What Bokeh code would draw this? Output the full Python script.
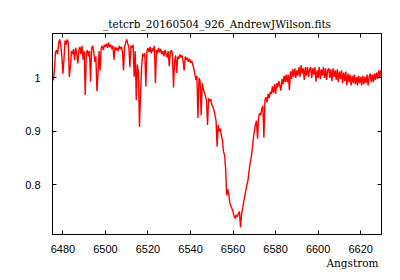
import numpy as np
from bokeh.plotting import figure
from bokeh.models import Range1d, FixedTicker, LinearAxis, Title
from bokeh.embed import file_html
from bokeh.resources import INLINE

title_text = "_tetcrb_20160504_926_AndrewJWilson.fits"
x_label = "Angstrom"

x_ticks = [6480, 6500, 6520, 6540, 6560, 6580, 6600, 6620]
x_tick_labels = ["6480", "6500", "6520", "6540", "6560", "6580", "6600", "6620"]
y_ticks = [0.8, 0.9, 1.0]
y_tick_labels = ["0.8", "0.9", "1"]

wave_start = 6475.5
wave_step = 0.5

flux = [
    0.995, 1.015, 1.048, 1.052, 1.044, 1.066, 1.072, 1.060, 1.040, 1.008,
    1.035, 1.070, 1.062, 1.072, 1.066, 1.002, 1.020, 1.050, 1.044, 1.054,
    1.033, 1.056, 1.046, 1.027, 1.052, 1.058, 1.044, 1.060, 1.034, 1.050,
    0.968, 1.046, 1.052, 1.040, 1.050, 0.993, 1.056, 1.060, 1.048, 1.030,
    1.040, 0.975, 1.008, 1.050, 1.014, 1.056, 1.060, 1.052, 1.062, 1.058,
    1.064, 1.056, 1.066, 1.058, 1.062, 1.054, 1.060, 1.034, 1.058, 1.052,
    1.056, 1.050, 1.060, 1.054, 1.058, 1.048, 1.014, 1.058, 1.066, 1.072,
    1.064, 1.058, 1.020, 1.060, 1.056, 1.062, 1.002, 1.050, 0.958, 1.025,
    1.010, 0.908, 0.970, 1.020, 1.045, 1.040, 1.046, 0.984, 1.050, 1.056,
    1.048, 1.058, 1.046, 1.055, 1.050, 1.060, 0.990, 1.052, 1.046, 1.056,
    1.048, 1.054, 1.044, 1.050, 1.040, 1.052, 1.046, 1.038, 1.050, 1.022,
    1.048, 1.052, 1.045, 0.982, 1.030, 1.042, 1.009, 1.040, 1.036, 1.044,
    1.038, 1.042, 1.032, 1.014, 1.040, 1.034, 1.038, 1.030, 1.036, 1.028,
    1.032, 1.026, 1.018, 1.008, 0.996, 1.004, 0.925, 1.000, 0.994, 0.930,
    0.990, 0.980, 0.972, 0.966, 0.958, 0.912, 0.962, 0.956, 0.960, 0.950,
    0.946, 0.940, 0.930, 0.920, 0.871, 0.912, 0.900, 0.905, 0.892, 0.884,
    0.862, 0.856, 0.830, 0.780, 0.792, 0.782, 0.766, 0.760, 0.755, 0.750,
    0.740, 0.737, 0.744, 0.740, 0.746, 0.750, 0.720, 0.745, 0.756, 0.768,
    0.778, 0.790, 0.800, 0.808, 0.825, 0.840, 0.850, 0.866, 0.885, 0.900,
    0.912, 0.920, 0.886, 0.926, 0.934, 0.930, 0.942, 0.948, 0.888, 0.958,
    0.964, 0.954, 0.970, 0.962, 0.974, 0.970, 0.984, 0.972, 0.988, 0.970,
    0.990, 0.982, 0.994, 0.986, 0.976, 0.998, 0.988, 1.004, 0.992, 1.006,
    0.992, 1.006, 0.977, 1.012, 0.998, 1.016, 1.002, 1.018, 1.000, 1.014,
    1.004, 1.020, 1.002, 1.024, 1.008, 1.018, 0.996, 1.020, 1.004, 1.020,
    1.002, 1.016, 1.020, 1.000, 1.018, 1.006, 1.020, 0.993, 1.014, 1.000,
    1.020, 0.998, 1.016, 1.004, 1.020, 1.000, 1.018, 0.996, 1.014, 1.018,
    1.000, 1.016, 0.994, 1.018, 1.002, 1.014, 0.996, 1.016, 0.992, 1.012,
    0.998, 1.014, 0.990, 1.010, 0.994, 1.012, 0.986, 1.008, 0.992, 1.006,
    0.986, 1.004, 0.990, 1.006, 0.988, 1.002, 0.986, 1.004, 0.990, 1.002,
    0.986, 1.004, 0.988, 1.002, 0.990, 1.006, 0.986, 1.002, 1.008, 0.992,
    1.006, 0.992, 1.008, 0.996, 1.010, 0.998, 1.014, 1.002, 1.014,
]

wavelength = wave_start + wave_step * np.arange(len(flux))

p = figure(width=400, height=280, output_backend="svg", toolbar_location=None,
           x_range=Range1d(6475.1, 6629.8), y_range=Range1d(0.707, 1.083),
           min_border_left=52, min_border_right=19, min_border_top=33,
           min_border_bottom=46, background_fill_color="white",
           border_fill_color="white")

p.title.text = title_text
p.title.align = "center"
p.title.text_font = "DejaVu Serif"
p.title.text_font_size = "10.5px"
p.title.text_font_style = "normal"
p.title.text_color = "black"
p.title.standoff = 8

p.grid.visible = False
p.outline_line_color = "black"
p.outline_line_width = 1

p.line(wavelength, flux, line_color="#ff0000", line_width=1.4)

def style_axis(ax, show_labels):
    ax.major_tick_in = 4
    ax.major_tick_out = 0
    ax.minor_tick_line_color = None
    ax.axis_line_color = "black"
    ax.major_tick_line_color = "black"
    ax.major_label_text_font = "Liberation Sans"
    if show_labels:
        ax.major_label_text_font_size = "11px"
        ax.major_label_text_color = "black"
    else:
        ax.major_label_text_font_size = "1px"
        ax.major_label_text_color = None
        ax.major_label_standoff = 0

p.xaxis.ticker = FixedTicker(ticks=x_ticks)
p.xaxis.major_label_overrides = dict(zip(x_ticks, x_tick_labels))
p.yaxis.ticker = FixedTicker(ticks=y_ticks)
p.yaxis.major_label_overrides = dict(zip(y_ticks, y_tick_labels))
style_axis(p.xaxis[0], True)
style_axis(p.yaxis[0], True)
p.xaxis.major_label_standoff = 10
p.yaxis.major_label_standoff = 12

top = LinearAxis(ticker=FixedTicker(ticks=x_ticks))
style_axis(top, False)
p.add_layout(top, "above")
right = LinearAxis(ticker=FixedTicker(ticks=y_ticks))
style_axis(right, False)
p.add_layout(right, "right")

xlab = Title(text=x_label, align="right", text_font="DejaVu Serif",
             text_font_size="10.5px", text_font_style="normal",
             text_color="black", standoff=-2, offset=3)
p.add_layout(xlab, "below")

open("out.html", "w").write(file_html(p, INLINE))
